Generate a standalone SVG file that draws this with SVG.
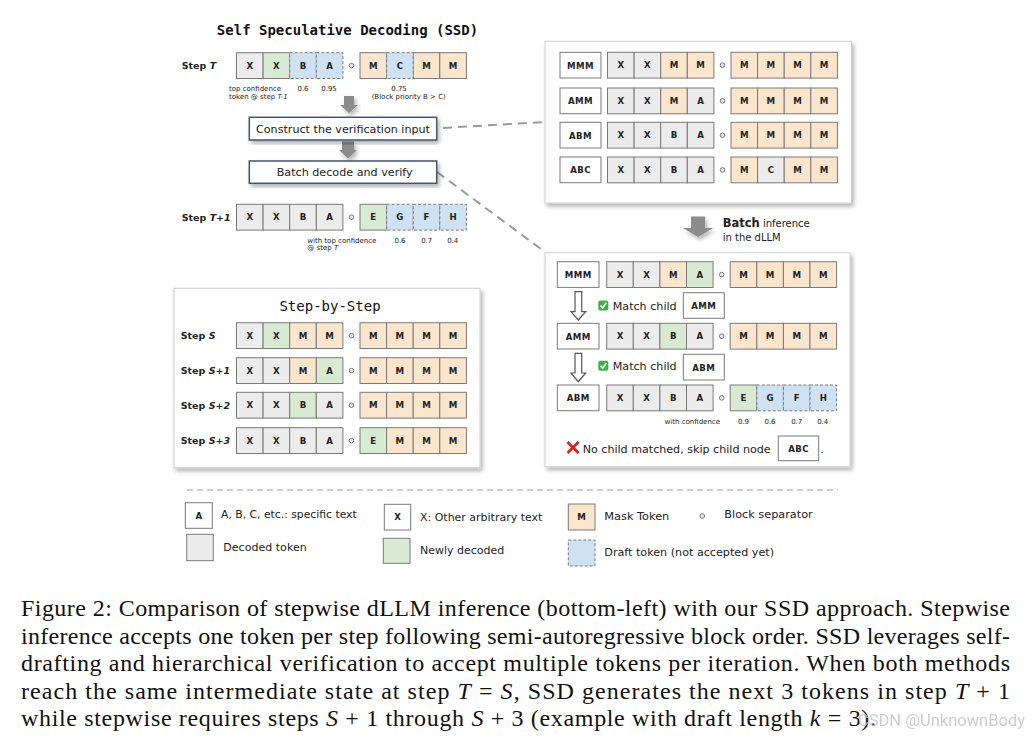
<svg xmlns="http://www.w3.org/2000/svg" width="1031" height="744" viewBox="0 0 1031 744">
<style>
.c{stroke:#7a7a7a;stroke-width:1}
.g{fill:#ececec}
.n{fill:#d9ead3}
.m{fill:#fce5cd}
.d{fill:#cfe2f3;stroke-dasharray:3 2}
.w{fill:#fff}
.t{font-family:"DejaVu Sans",sans-serif;font-size:8.6px;font-weight:bold;text-anchor:middle;fill:#222}
.sl{font-family:"DejaVu Sans",sans-serif;font-size:9.5px;font-weight:bold;fill:#222}
.sm{font-family:"DejaVu Sans",sans-serif;font-size:7px;fill:#222}
.lb{font-family:"DejaVu Sans",sans-serif;font-size:10px;fill:#222}
.lg{font-family:"DejaVu Sans",sans-serif;font-size:9.8px;fill:#222}
.dot{fill:#e8e8e8;stroke:#7a7a7a;stroke-width:1}
.panel{fill:#fff;stroke:#cfcfcf;stroke-width:1}
.box{fill:#fff;stroke:#44546a;stroke-width:1.5}
.dash{stroke:#9a9a9a;stroke-width:2;stroke-dasharray:9 6;fill:none}
.cap{font-family:"Liberation Serif","Times New Roman",serif;font-size:24px;fill:#111}
.mono{font-family:"DejaVu Sans Mono",monospace;fill:#111}
</style>
<defs>
<filter id="sh" x="-10%" y="-10%" width="125%" height="130%">
<feDropShadow dx="2" dy="3" stdDeviation="2" flood-color="#000" flood-opacity="0.3"/>
</filter>
</defs>
<rect width="1031" height="744" fill="#fff"/>

<!-- Connectors -->
<g id="connectors">
<path class="dash" d="M443 128 L545 122"/>
<path class="dash" d="M437 172 L545 252"/>
<line x1="580.7" y1="78" x2="580.7" y2="88" stroke="#666" stroke-width="1"/>
<line x1="580.7" y1="113.7" x2="580.7" y2="122.3" stroke="#666" stroke-width="1"/>
<line x1="580.7" y1="148" x2="580.7" y2="157" stroke="#666" stroke-width="1"/>
<path d="M344 96 H354 V105 H358 L349 113 L340 105 H344 Z" fill="#8c8c8c" filter="url(#sh)"/>
<path d="M342 141.5 H354 V150 H357 L348 158.5 L339 150 H342 Z" fill="#8c8c8c" filter="url(#sh)"/>
<path d="M691 216.5 H705 V228 H713 L698 237 L683 228 H691 Z" fill="#8c8c8c" filter="url(#sh)"/>
</g>

<!-- Title -->
<g id="title">
<text class="mono" x="347.5" y="35" font-size="14" font-weight="bold" text-anchor="middle">Self Speculative Decoding (SSD)</text>
</g>

<!-- Step T -->
<g id="stepT">
<text class="sl" x="181.7" y="69.3">Step <tspan font-style="italic">T</tspan></text>
<g transform="translate(236.5,52.7)">
<rect class="c g" x="0" y="0" width="26.6" height="25.8"/><rect class="c n" x="26.6" y="0" width="26.6" height="25.8"/>
<rect class="c m" x="123.5" y="0" width="26.6" height="25.8"/><rect class="c m" x="176.7" y="0" width="26.6" height="25.8"/><rect class="c m" x="203.3" y="0" width="26.6" height="25.8"/>
<rect class="c d" x="53.2" y="0" width="26.6" height="25.8"/><rect class="c d" x="79.8" y="0" width="26.6" height="25.8"/><rect class="c d" x="150.1" y="0" width="26.6" height="25.8"/>
<circle class="dot" cx="115" cy="12.9" r="2.3"/>
<text class="t" x="13.3" y="16.2">X</text><text class="t" x="39.9" y="16.2">X</text><text class="t" x="66.5" y="16.2">B</text><text class="t" x="93.1" y="16.2">A</text>
<text class="t" x="136.8" y="16.2">M</text><text class="t" x="163.4" y="16.2">C</text><text class="t" x="190" y="16.2">M</text><text class="t" x="216.6" y="16.2">M</text>
</g>
<text class="sm" x="229" y="91">top confidence</text>
<text class="sm" x="229" y="98.7">token @ step <tspan font-style="italic">T-1</tspan></text>
<text class="sm" x="303" y="91" text-anchor="middle">0.6</text>
<text class="sm" x="329" y="91" text-anchor="middle">0.95</text>
<text class="sm" x="399" y="91" text-anchor="middle">0.75</text>
<text class="sm" x="408.7" y="98.7" text-anchor="middle">(Block priority B &gt; C)</text>
</g>

<g id="construct">
<rect class="box" x="249.3" y="117.3" width="187.4" height="22.7" filter="url(#sh)"/>
<text class="lb" x="343" y="132.5" text-anchor="middle" textLength="174" lengthAdjust="spacingAndGlyphs">Construct the verification input</text>
</g>
<g id="batchdecode">
<rect class="box" x="249.3" y="161" width="187.4" height="22.3" filter="url(#sh)"/>
<text class="lb" x="344.7" y="175.7" text-anchor="middle" textLength="136" lengthAdjust="spacingAndGlyphs">Batch decode and verify</text>
</g>

<!-- Step T+1 -->
<g id="stepT1">
<text class="sl" x="181.7" y="221">Step <tspan font-style="italic">T+1</tspan></text>
<g transform="translate(236.5,204.3)">
<rect class="c g" x="0" y="0" width="26.6" height="25.8"/><rect class="c g" x="26.6" y="0" width="26.6" height="25.8"/><rect class="c g" x="53.2" y="0" width="26.6" height="25.8"/><rect class="c g" x="79.8" y="0" width="26.6" height="25.8"/>
<rect class="c n" x="123.5" y="0" width="26.6" height="25.8"/>
<rect class="c d" x="150.1" y="0" width="26.6" height="25.8"/><rect class="c d" x="176.7" y="0" width="26.6" height="25.8"/><rect class="c d" x="203.3" y="0" width="26.6" height="25.8"/>
<circle class="dot" cx="115" cy="12.9" r="2.3"/>
<text class="t" x="13.3" y="16.2">X</text><text class="t" x="39.9" y="16.2">X</text><text class="t" x="66.5" y="16.2">B</text><text class="t" x="93.1" y="16.2">A</text>
<text class="t" x="136.8" y="16.2">E</text><text class="t" x="163.4" y="16.2">G</text><text class="t" x="190" y="16.2">F</text><text class="t" x="216.6" y="16.2">H</text>
</g>
<text class="sm" x="307.3" y="242.5">with top confidence</text>
<text class="sm" x="307.3" y="250">@ step <tspan font-style="italic">T</tspan></text>
<text class="sm" x="400" y="242.5" text-anchor="middle">0.6</text>
<text class="sm" x="426.7" y="242.5" text-anchor="middle">0.7</text>
<text class="sm" x="452.7" y="242.5" text-anchor="middle">0.4</text>
</g>

<!-- Top right panel: verification input -->
<g id="verifyPanel">
<rect class="panel" x="545" y="41.3" width="306.5" height="161.7" filter="url(#sh)"/>
<g id="vrow1">
<rect class="c w" x="560" y="52.3" width="41" height="25.7"/><text class="t" x="580.5" y="68.5" letter-spacing="0.4">MMM</text>
<g transform="translate(607.5,52.3)">
<rect class="c g" x="0" y="0" width="26.6" height="25.8"/><rect class="c g" x="26.6" y="0" width="26.6" height="25.8"/><rect class="c m" x="53.2" y="0" width="26.6" height="25.8"/><rect class="c m" x="79.8" y="0" width="26.6" height="25.8"/>
<rect class="c m" x="123.5" y="0" width="26.6" height="25.8"/><rect class="c m" x="150.1" y="0" width="26.6" height="25.8"/><rect class="c m" x="176.7" y="0" width="26.6" height="25.8"/><rect class="c m" x="203.3" y="0" width="26.6" height="25.8"/>
<circle class="dot" cx="115" cy="12.9" r="2.3"/>
<text class="t" x="13.3" y="16.2">X</text><text class="t" x="39.9" y="16.2">X</text><text class="t" x="66.5" y="16.2">M</text><text class="t" x="93.1" y="16.2">M</text>
<text class="t" x="136.8" y="16.2">M</text><text class="t" x="163.4" y="16.2">M</text><text class="t" x="190" y="16.2">M</text><text class="t" x="216.6" y="16.2">M</text>
</g>
</g>
<g id="vrow2">
<rect class="c w" x="560" y="88" width="41" height="25.7"/><text class="t" x="580.5" y="104.2" letter-spacing="0.4">AMM</text>
<g transform="translate(607.5,88)">
<rect class="c g" x="0" y="0" width="26.6" height="25.8"/><rect class="c g" x="26.6" y="0" width="26.6" height="25.8"/><rect class="c m" x="53.2" y="0" width="26.6" height="25.8"/><rect class="c g" x="79.8" y="0" width="26.6" height="25.8"/>
<rect class="c m" x="123.5" y="0" width="26.6" height="25.8"/><rect class="c m" x="150.1" y="0" width="26.6" height="25.8"/><rect class="c m" x="176.7" y="0" width="26.6" height="25.8"/><rect class="c m" x="203.3" y="0" width="26.6" height="25.8"/>
<circle class="dot" cx="115" cy="12.9" r="2.3"/>
<text class="t" x="13.3" y="16.2">X</text><text class="t" x="39.9" y="16.2">X</text><text class="t" x="66.5" y="16.2">M</text><text class="t" x="93.1" y="16.2">A</text>
<text class="t" x="136.8" y="16.2">M</text><text class="t" x="163.4" y="16.2">M</text><text class="t" x="190" y="16.2">M</text><text class="t" x="216.6" y="16.2">M</text>
</g>
</g>
<g id="vrow3">
<rect class="c w" x="560" y="122.3" width="41" height="25.7"/><text class="t" x="580.5" y="138.5" letter-spacing="0.4">ABM</text>
<g transform="translate(607.5,122.3)">
<rect class="c g" x="0" y="0" width="26.6" height="25.8"/><rect class="c g" x="26.6" y="0" width="26.6" height="25.8"/><rect class="c g" x="53.2" y="0" width="26.6" height="25.8"/><rect class="c g" x="79.8" y="0" width="26.6" height="25.8"/>
<rect class="c m" x="123.5" y="0" width="26.6" height="25.8"/><rect class="c m" x="150.1" y="0" width="26.6" height="25.8"/><rect class="c m" x="176.7" y="0" width="26.6" height="25.8"/><rect class="c m" x="203.3" y="0" width="26.6" height="25.8"/>
<circle class="dot" cx="115" cy="12.9" r="2.3"/>
<text class="t" x="13.3" y="16.2">X</text><text class="t" x="39.9" y="16.2">X</text><text class="t" x="66.5" y="16.2">B</text><text class="t" x="93.1" y="16.2">A</text>
<text class="t" x="136.8" y="16.2">M</text><text class="t" x="163.4" y="16.2">M</text><text class="t" x="190" y="16.2">M</text><text class="t" x="216.6" y="16.2">M</text>
</g>
</g>
<g id="vrow4">
<rect class="c w" x="560" y="157" width="41" height="25.7"/><text class="t" x="580.5" y="173.2" letter-spacing="0.4">ABC</text>
<g transform="translate(607.5,157)">
<rect class="c g" x="0" y="0" width="26.6" height="25.8"/><rect class="c g" x="26.6" y="0" width="26.6" height="25.8"/><rect class="c g" x="53.2" y="0" width="26.6" height="25.8"/><rect class="c g" x="79.8" y="0" width="26.6" height="25.8"/>
<rect class="c m" x="123.5" y="0" width="26.6" height="25.8"/><rect class="c g" x="150.1" y="0" width="26.6" height="25.8"/><rect class="c m" x="176.7" y="0" width="26.6" height="25.8"/><rect class="c m" x="203.3" y="0" width="26.6" height="25.8"/>
<circle class="dot" cx="115" cy="12.9" r="2.3"/>
<text class="t" x="13.3" y="16.2">X</text><text class="t" x="39.9" y="16.2">X</text><text class="t" x="66.5" y="16.2">B</text><text class="t" x="93.1" y="16.2">A</text>
<text class="t" x="136.8" y="16.2">M</text><text class="t" x="163.4" y="16.2">C</text><text class="t" x="190" y="16.2">M</text><text class="t" x="216.6" y="16.2">M</text>
</g>
</g>
</g>

<g id="batchInference">
<text class="lb" x="722.7" y="227" font-size="10.5"><tspan font-weight="bold" font-size="11.5">Batch</tspan> inference</text>
<text class="lb" x="722.7" y="240.5" font-size="10.5">in the dLLM</text>
</g>

<!-- Lower right panel -->
<g id="resultPanel">
<rect class="panel" x="545" y="252.7" width="305" height="214" filter="url(#sh)"/>
<g id="rrow1">
<rect class="c w" x="557.3" y="261.7" width="41.7" height="25.7"/><text class="t" x="578.2" y="277.9" letter-spacing="0.4">MMM</text>
<g transform="translate(606.7,261.7)">
<rect class="c g" x="0" y="0" width="26.6" height="25.8"/><rect class="c g" x="26.6" y="0" width="26.6" height="25.8"/><rect class="c m" x="53.2" y="0" width="26.6" height="25.8"/><rect class="c n" x="79.8" y="0" width="26.6" height="25.8"/>
<rect class="c m" x="123.5" y="0" width="26.6" height="25.8"/><rect class="c m" x="150.1" y="0" width="26.6" height="25.8"/><rect class="c m" x="176.7" y="0" width="26.6" height="25.8"/><rect class="c m" x="203.3" y="0" width="26.6" height="25.8"/>
<circle class="dot" cx="115" cy="12.9" r="2.3"/>
<text class="t" x="13.3" y="16.2">X</text><text class="t" x="39.9" y="16.2">X</text><text class="t" x="66.5" y="16.2">M</text><text class="t" x="93.1" y="16.2">A</text>
<text class="t" x="136.8" y="16.2">M</text><text class="t" x="163.4" y="16.2">M</text><text class="t" x="190" y="16.2">M</text><text class="t" x="216.6" y="16.2">M</text>
</g>
</g>
<g id="arrow1">
<path d="M575 291.7 H581.7 V311.7 H585.7 L578.3 320 L571 311.7 H575 Z" fill="#fff" stroke="#555" stroke-width="1.2"/>
</g>
<g id="match1">
<rect x="598.3" y="300.5" width="10" height="10" rx="2" fill="#3cb043"/>
<polyline points="600.5,305.5 602.7,308 606.3,302.8" fill="none" stroke="#fff" stroke-width="1.6"/>
<text class="lb" x="612.7" y="310" textLength="64" lengthAdjust="spacingAndGlyphs">Match child</text>
<rect class="c w" x="683.3" y="292.7" width="41" height="25.6"/><text class="t" x="703.8" y="308.8" letter-spacing="0.4">AMM</text>
</g>
<g id="rrow2">
<rect class="c w" x="557.3" y="323.3" width="41.7" height="25.7"/><text class="t" x="578.2" y="339.5" letter-spacing="0.4">AMM</text>
<g transform="translate(606.7,323.3)">
<rect class="c g" x="0" y="0" width="26.6" height="25.8"/><rect class="c g" x="26.6" y="0" width="26.6" height="25.8"/><rect class="c n" x="53.2" y="0" width="26.6" height="25.8"/><rect class="c g" x="79.8" y="0" width="26.6" height="25.8"/>
<rect class="c m" x="123.5" y="0" width="26.6" height="25.8"/><rect class="c m" x="150.1" y="0" width="26.6" height="25.8"/><rect class="c m" x="176.7" y="0" width="26.6" height="25.8"/><rect class="c m" x="203.3" y="0" width="26.6" height="25.8"/>
<circle class="dot" cx="115" cy="12.9" r="2.3"/>
<text class="t" x="13.3" y="16.2">X</text><text class="t" x="39.9" y="16.2">X</text><text class="t" x="66.5" y="16.2">B</text><text class="t" x="93.1" y="16.2">A</text>
<text class="t" x="136.8" y="16.2">M</text><text class="t" x="163.4" y="16.2">M</text><text class="t" x="190" y="16.2">M</text><text class="t" x="216.6" y="16.2">M</text>
</g>
</g>
<g id="arrow2">
<path d="M575 353.3 H581.7 V373 H585.7 L578.3 381.7 L571 373 H575 Z" fill="#fff" stroke="#555" stroke-width="1.2"/>
</g>
<g id="match2">
<rect x="598.3" y="360.7" width="10" height="10" rx="2" fill="#3cb043"/>
<polyline points="600.5,365.7 602.7,368.2 606.3,363" fill="none" stroke="#fff" stroke-width="1.6"/>
<text class="lb" x="612.7" y="370.3" textLength="64" lengthAdjust="spacingAndGlyphs">Match child</text>
<rect class="c w" x="683.3" y="354.3" width="41" height="25.7"/><text class="t" x="703.8" y="370.5" letter-spacing="0.4">ABM</text>
</g>
<g id="rrow3">
<rect class="c w" x="557.3" y="385" width="41.7" height="25.7"/><text class="t" x="578.2" y="401.2" letter-spacing="0.4">ABM</text>
<g transform="translate(606.7,385)">
<rect class="c g" x="0" y="0" width="26.6" height="25.8"/><rect class="c g" x="26.6" y="0" width="26.6" height="25.8"/><rect class="c g" x="53.2" y="0" width="26.6" height="25.8"/><rect class="c g" x="79.8" y="0" width="26.6" height="25.8"/>
<rect class="c n" x="123.5" y="0" width="26.6" height="25.8"/>
<rect class="c d" x="150.1" y="0" width="26.6" height="25.8"/><rect class="c d" x="176.7" y="0" width="26.6" height="25.8"/><rect class="c d" x="203.3" y="0" width="26.6" height="25.8"/>
<circle class="dot" cx="115" cy="12.9" r="2.3"/>
<text class="t" x="13.3" y="16.2">X</text><text class="t" x="39.9" y="16.2">X</text><text class="t" x="66.5" y="16.2">B</text><text class="t" x="93.1" y="16.2">A</text>
<text class="t" x="136.8" y="16.2">E</text><text class="t" x="163.4" y="16.2">G</text><text class="t" x="190" y="16.2">F</text><text class="t" x="216.6" y="16.2">H</text>
</g>
<text class="sm" x="692.3" y="424.3" text-anchor="middle">with confidence</text>
<text class="sm" x="743.5" y="424.3" text-anchor="middle">0.9</text>
<text class="sm" x="770" y="424.3" text-anchor="middle">0.6</text>
<text class="sm" x="796.7" y="424.3" text-anchor="middle">0.7</text>
<text class="sm" x="822.7" y="424.3" text-anchor="middle">0.4</text>
</g>
<g id="nomatch">
<path d="M567.5 442 L578.5 453 M578.5 442 L567.5 453" stroke="#e0201b" stroke-width="2.6" fill="none"/>
<text class="lb" x="582.7" y="453.3" textLength="188" lengthAdjust="spacingAndGlyphs">No child matched, skip child node</text>
<rect class="c w" x="778.3" y="436" width="40.4" height="24.7"/><text class="t" x="798.5" y="451.6" letter-spacing="0.4">ABC</text>
<text class="lb" x="820.5" y="453.3">.</text>
</g>
</g>

<!-- Step-by-Step panel -->
<g id="stepByStep">
<rect class="panel" x="174" y="288.3" width="306" height="179.4" filter="url(#sh)"/>
<text class="mono" x="330" y="310.5" font-size="14" text-anchor="middle">Step-by-Step</text>
<g id="stepS">
<text class="sl" x="180.7" y="339">Step <tspan font-style="italic">S</tspan></text>
<g transform="translate(236.5,322.7)">
<rect class="c g" x="0" y="0" width="26.6" height="25.8"/><rect class="c n" x="26.6" y="0" width="26.6" height="25.8"/><rect class="c m" x="53.2" y="0" width="26.6" height="25.8"/><rect class="c m" x="79.8" y="0" width="26.6" height="25.8"/>
<rect class="c m" x="123.5" y="0" width="26.6" height="25.8"/><rect class="c m" x="150.1" y="0" width="26.6" height="25.8"/><rect class="c m" x="176.7" y="0" width="26.6" height="25.8"/><rect class="c m" x="203.3" y="0" width="26.6" height="25.8"/>
<circle class="dot" cx="115" cy="12.9" r="2.3"/>
<text class="t" x="13.3" y="16.2">X</text><text class="t" x="39.9" y="16.2">X</text><text class="t" x="66.5" y="16.2">M</text><text class="t" x="93.1" y="16.2">M</text>
<text class="t" x="136.8" y="16.2">M</text><text class="t" x="163.4" y="16.2">M</text><text class="t" x="190" y="16.2">M</text><text class="t" x="216.6" y="16.2">M</text>
</g>
</g>
<g id="stepS1">
<text class="sl" x="180.7" y="374">Step <tspan font-style="italic">S+1</tspan></text>
<g transform="translate(236.5,357.7)">
<rect class="c g" x="0" y="0" width="26.6" height="25.8"/><rect class="c g" x="26.6" y="0" width="26.6" height="25.8"/><rect class="c m" x="53.2" y="0" width="26.6" height="25.8"/><rect class="c n" x="79.8" y="0" width="26.6" height="25.8"/>
<rect class="c m" x="123.5" y="0" width="26.6" height="25.8"/><rect class="c m" x="150.1" y="0" width="26.6" height="25.8"/><rect class="c m" x="176.7" y="0" width="26.6" height="25.8"/><rect class="c m" x="203.3" y="0" width="26.6" height="25.8"/>
<circle class="dot" cx="115" cy="12.9" r="2.3"/>
<text class="t" x="13.3" y="16.2">X</text><text class="t" x="39.9" y="16.2">X</text><text class="t" x="66.5" y="16.2">M</text><text class="t" x="93.1" y="16.2">A</text>
<text class="t" x="136.8" y="16.2">M</text><text class="t" x="163.4" y="16.2">M</text><text class="t" x="190" y="16.2">M</text><text class="t" x="216.6" y="16.2">M</text>
</g>
</g>
<g id="stepS2">
<text class="sl" x="180.7" y="409">Step <tspan font-style="italic">S+2</tspan></text>
<g transform="translate(236.5,392.3)">
<rect class="c g" x="0" y="0" width="26.6" height="25.8"/><rect class="c g" x="26.6" y="0" width="26.6" height="25.8"/><rect class="c n" x="53.2" y="0" width="26.6" height="25.8"/><rect class="c g" x="79.8" y="0" width="26.6" height="25.8"/>
<rect class="c m" x="123.5" y="0" width="26.6" height="25.8"/><rect class="c m" x="150.1" y="0" width="26.6" height="25.8"/><rect class="c m" x="176.7" y="0" width="26.6" height="25.8"/><rect class="c m" x="203.3" y="0" width="26.6" height="25.8"/>
<circle class="dot" cx="115" cy="12.9" r="2.3"/>
<text class="t" x="13.3" y="16.2">X</text><text class="t" x="39.9" y="16.2">X</text><text class="t" x="66.5" y="16.2">B</text><text class="t" x="93.1" y="16.2">A</text>
<text class="t" x="136.8" y="16.2">M</text><text class="t" x="163.4" y="16.2">M</text><text class="t" x="190" y="16.2">M</text><text class="t" x="216.6" y="16.2">M</text>
</g>
</g>
<g id="stepS3">
<text class="sl" x="180.7" y="444">Step <tspan font-style="italic">S+3</tspan></text>
<g transform="translate(236.5,427.7)">
<rect class="c g" x="0" y="0" width="26.6" height="25.8"/><rect class="c g" x="26.6" y="0" width="26.6" height="25.8"/><rect class="c g" x="53.2" y="0" width="26.6" height="25.8"/><rect class="c g" x="79.8" y="0" width="26.6" height="25.8"/>
<rect class="c n" x="123.5" y="0" width="26.6" height="25.8"/><rect class="c m" x="150.1" y="0" width="26.6" height="25.8"/><rect class="c m" x="176.7" y="0" width="26.6" height="25.8"/><rect class="c m" x="203.3" y="0" width="26.6" height="25.8"/>
<circle class="dot" cx="115" cy="12.9" r="2.3"/>
<text class="t" x="13.3" y="16.2">X</text><text class="t" x="39.9" y="16.2">X</text><text class="t" x="66.5" y="16.2">B</text><text class="t" x="93.1" y="16.2">A</text>
<text class="t" x="136.8" y="16.2">E</text><text class="t" x="163.4" y="16.2">M</text><text class="t" x="190" y="16.2">M</text><text class="t" x="216.6" y="16.2">M</text>
</g>
</g>
</g>

<!-- Legend -->
<g id="legend">
<line x1="187" y1="490" x2="838" y2="490" stroke="#9a9a9a" stroke-width="1.2" stroke-dasharray="6 4"/>
<rect class="c w" x="185.3" y="502.7" width="27" height="25.6"/><text class="t" x="198.8" y="518.8">A</text>
<text class="lg" x="221" y="517.7" textLength="135.7" lengthAdjust="spacingAndGlyphs">A, B, C, etc.: specific text</text>
<rect class="c g" x="186.7" y="534.3" width="26.6" height="26.4"/>
<text class="lg" x="223.3" y="551" textLength="83.4" lengthAdjust="spacingAndGlyphs">Decoded token</text>
<rect class="c w" x="384.3" y="504.3" width="26.4" height="25.7"/><text class="t" x="397.5" y="520.4">X</text>
<text class="lg" x="420" y="520.7" textLength="122.3" lengthAdjust="spacingAndGlyphs">X: Other arbitrary text</text>
<rect class="c n" x="383.3" y="538.3" width="26.7" height="25"/>
<text class="lg" x="420" y="554" textLength="84.3" lengthAdjust="spacingAndGlyphs">Newly decoded</text>
<rect class="c m" x="568.3" y="504" width="26.7" height="26"/><text class="t" x="581.6" y="520.2">M</text>
<text class="lg" x="604.3" y="520" textLength="65" lengthAdjust="spacingAndGlyphs">Mask Token</text>
<circle class="dot" cx="702.3" cy="516" r="2.3"/>
<text class="lg" x="724.3" y="518" textLength="88.4" lengthAdjust="spacingAndGlyphs">Block separator</text>
<rect class="c d" x="568.3" y="540" width="26.7" height="26"/>
<text class="lg" x="604.3" y="556" textLength="169.7" lengthAdjust="spacingAndGlyphs">Draft token (not accepted yet)</text>
</g>

<!-- Caption -->
<g id="caption">
<text class="cap" x="21" y="616" textLength="989" lengthAdjust="spacing">Figure 2: Comparison of stepwise dLLM inference (bottom-left) with our SSD approach. Stepwise</text>
<text class="cap" x="21" y="643.5" textLength="989" lengthAdjust="spacing">inference accepts one token per step following semi-autoregressive block order. SSD leverages self-</text>
<text class="cap" x="21" y="671" textLength="989" lengthAdjust="spacing">drafting and hierarchical verification to accept multiple tokens per iteration.  When both methods</text>
<text class="cap" x="21" y="698.5" textLength="989" lengthAdjust="spacing">reach the same intermediate state at step <tspan font-style="italic">T</tspan> = <tspan font-style="italic">S</tspan>, SSD generates the next 3 tokens in step <tspan font-style="italic">T</tspan> + 1</text>
<text class="cap" x="21" y="726" textLength="855" lengthAdjust="spacing">while stepwise requires steps <tspan font-style="italic">S</tspan> + 1 through <tspan font-style="italic">S</tspan> + 3 (example with draft length <tspan font-style="italic">k</tspan> = 3).</text>
<text x="1025" y="726" text-anchor="end" font-family="Roboto, sans-serif" font-size="16.5" fill="#c4c4c4" opacity="0.85">CSDN @UnknownBody</text>
</g>
</svg>
